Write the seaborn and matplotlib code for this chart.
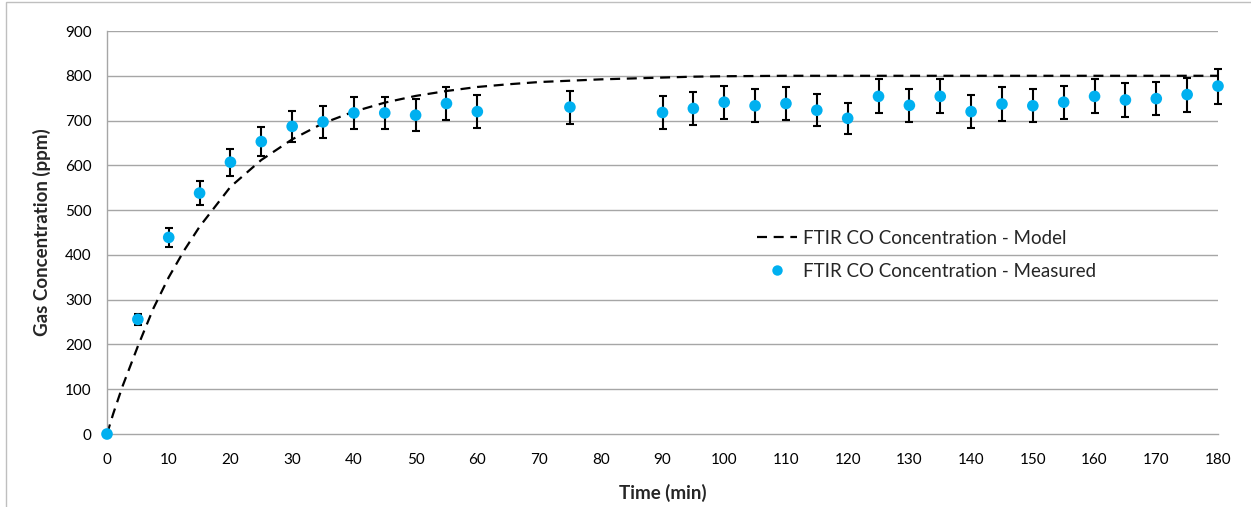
import matplotlib
matplotlib.use("Agg")
import matplotlib.pyplot as plt
from matplotlib.lines import Line2D
from matplotlib.patches import Rectangle
import seaborn as sns
import pandas as pd

# Measured FTIR CO concentration (ppm) and its error bars
meas_time = [0, 5, 10, 15, 20, 25, 30, 35, 40, 45, 50, 55, 60, 75,
             90, 95, 100, 105, 110, 115, 120, 125, 130, 135, 140, 145,
             150, 155, 160, 165, 170, 175, 180]
meas_ppm = [0, 256, 439, 538, 607, 653, 687, 697, 717, 717, 712, 738, 720, 730,
            718, 727, 741, 733, 738, 723, 705, 754, 734, 754, 720, 737,
            733, 741, 754, 746, 749, 758, 777]
meas_err = [0, 13, 22, 27, 30, 33, 34, 35, 36, 36, 36, 37, 36, 37,
            36, 36, 37, 37, 37, 36, 35, 38, 37, 38, 36, 37,
            37, 37, 38, 37, 37, 38, 39]

# Model curve (ppm)
model_time = [0, 1, 2.5, 5, 7.5, 10, 12.5, 15, 20, 25, 30, 35, 40, 45, 50, 55,
              60, 65, 70, 75, 80, 85, 90, 95, 100, 110, 120, 130, 140, 150,
              160, 170, 180]
model_ppm = [0, 45, 106, 196, 280, 350, 410, 463, 552, 612, 658, 694, 720, 740,
             755, 766, 775, 781, 786, 789, 792, 794, 796, 798, 799, 800, 800,
             800, 800, 800, 800, 800, 800]

x_ticks = list(range(0, 181, 10))
y_ticks = list(range(0, 901, 100))

meas = pd.DataFrame({"Time": meas_time, "CO": meas_ppm, "err": meas_err})
model = pd.DataFrame({"Time": model_time, "CO": model_ppm})

sns.set_theme(style="white")
plt.rcParams["font.family"] = ["Lato", "DejaVu Sans"]

fig = plt.figure(figsize=(12.51, 5.07), dpi=100)
ax = fig.add_axes([107 / 1251, 1 - 434 / 507, (1218 - 107) / 1251, (434 - 31) / 507])

grid_c = "#A6A6A6"
blue = "#00B0F0"

# horizontal gridlines
for v in y_ticks[1:]:
    ax.axhline(v, color=grid_c, lw=1.0, zorder=0)

sns.lineplot(data=model, x="Time", y="CO", ax=ax, color="black", lw=1.6,
             linestyle=(0, (4.5, 3)), zorder=2)
ax.errorbar(meas["Time"], meas["CO"], yerr=meas["err"], fmt="none",
            ecolor="black", elinewidth=1.5, capsize=2.6, capthick=1.5,
            zorder=3, clip_on=False)
sns.scatterplot(data=meas, x="Time", y="CO", ax=ax, color=blue, s=70,
                edgecolor="none", zorder=4, clip_on=False)

ax.set_xlim(0, 180)
ax.set_ylim(0, 900)
ax.set_xticks(x_ticks)
ax.set_yticks(y_ticks)
ax.tick_params(axis="both", labelsize=11, colors=grid_c, labelcolor="#000000",
               length=5, width=1.0, direction="out")
ax.tick_params(axis="x", pad=9)
ax.tick_params(axis="y", pad=6)

for side in ("top", "right"):
    ax.spines[side].set_visible(False)
for side in ("left", "bottom"):
    ax.spines[side].set_color(grid_c)
    ax.spines[side].set_linewidth(1.0)

ax.set_xlabel("Time (min)", fontsize=13.5, fontweight="bold", labelpad=12)
ax.set_ylabel("Gas Concentration (ppm)", fontsize=13.5, fontweight="bold", labelpad=10)

handles = [
    Line2D([], [], color="black", lw=1.6, linestyle=(0, (4.5, 3))),
    Line2D([], [], color=blue, marker="o", markersize=7.5, linestyle="none",
           markeredgecolor="none"),
]
labels = ["FTIR CO Concentration - Model", "FTIR CO Concentration - Measured"]
fig.legend(handles, labels, loc="center left", bbox_to_anchor=(757 / 1251, 1 - 255 / 507),
           frameon=False, fontsize=13.5, handlelength=2.15, handletextpad=0.3,
           labelspacing=0.85, borderpad=0, borderaxespad=0)

# chart frame (left and top edges)
fig.patches.append(Rectangle((6 / 1251, -0.1), 1.2, 1 - 2 / 507 + 0.1,
                             transform=fig.transFigure, fill=False,
                             edgecolor="#BFBFBF", lw=1.0))

fig.savefig("out.png", dpi=100, facecolor="white")
